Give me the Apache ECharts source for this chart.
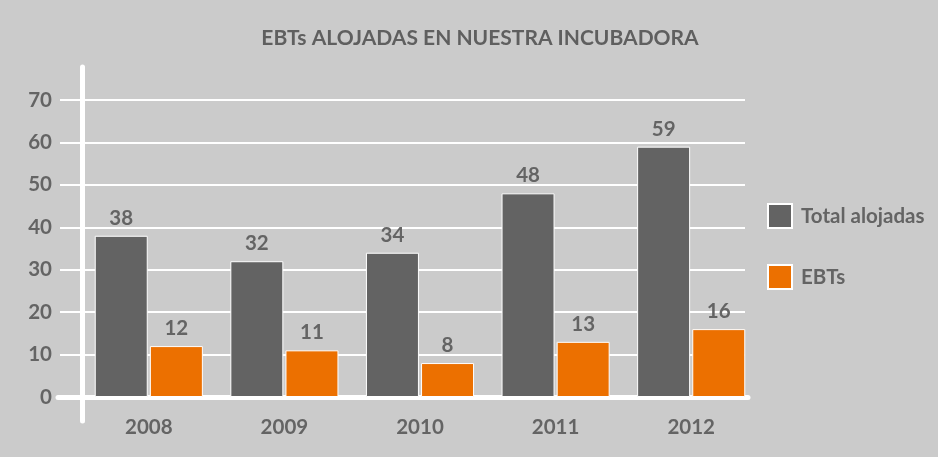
<!DOCTYPE html>
<html><head><meta charset="utf-8">
<script src="https://cdn.jsdelivr.net/npm/echarts@6/dist/echarts.min.js"></script>
<style>html,body{margin:0;padding:0;background:#cbcbcb}#c{width:938px;height:457px}</style>
</head><body><div id="c"></div>
<script>
const categories = ['2008','2009','2010','2011','2012'];
const totalAlojadas = [38, 32, 34, 48, 59];
const ebts = [12, 11, 8, 13, 16];
const seriesNames = ['Total alojadas', 'EBTs'];
const titleText = 'EBTs ALOJADAS EN NUESTRA INCUBADORA';

const FONT = 'Lato';
const TXT = '#646464';
const FS = 20.5;
const chart = echarts.init(document.getElementById('c'));
const labelStyle = {show: true, position: 'top', distance: 7, color: TXT, fontFamily: FONT, fontWeight: 'bold', fontSize: FS};
chart.setOption({
  backgroundColor: '#cbcbcb',
  animation: false,
  title: {text: titleText, left: 480, top: 28, textAlign: 'center', padding: 0,
    textStyle: {color: '#5f5f5f', fontFamily: FONT, fontWeight: 'bold', fontSize: 21}},
  legend: {orient: 'vertical', left: 767, top: 203, padding: 0, itemWidth: 24, itemHeight: 24, itemGap: 35,
    icon: 'rect', data: seriesNames,
    textStyle: {color: TXT, fontFamily: FONT, fontWeight: 'bold', fontSize: FS, padding: [0,0,0,4]}},
  grid: [
    {left: 82, right: 193, top: 100, bottom: 60},   // gridlines
    {left: 81, width: 678, top: 100, bottom: 60},   // bars
    {left: 58, right: 190, top: 100, bottom: 60},   // x axis line
    {left: 82, width: 10, top: 67, bottom: 36}      // y axis line
  ],
  xAxis: [
    {gridIndex: 0, type: 'value', show: false},
    {gridIndex: 1, type: 'category', data: categories,
      axisLine: {show: false}, axisTick: {show: false},
      axisLabel: {color: TXT, fontFamily: FONT, fontWeight: 'bold', fontSize: FS, margin: 20}},
    {gridIndex: 2, type: 'value', axisLine: {show: true, lineStyle: {color: '#ffffff', width: 5}},
      axisTick: {show: false}, axisLabel: {show: false}, splitLine: {show: false}},
    {gridIndex: 3, type: 'value', show: false}
  ],
  yAxis: [
    {gridIndex: 0, type: 'value', min: 0, max: 70, interval: 10,
      axisLine: {show: false},
      axisTick: {show: true, length: 22, lineStyle: {color: '#ffffff', width: 2}},
      axisLabel: {color: TXT, fontFamily: FONT, fontWeight: 'bold', fontSize: FS, margin: 30},
      splitLine: {show: true, lineStyle: {color: '#ffffff', width: 2}}},
    {gridIndex: 1, type: 'value', min: 0, max: 70, interval: 10, show: false},
    {gridIndex: 2, type: 'value', show: false},
    {gridIndex: 3, type: 'value', axisLine: {show: true, onZero: false, lineStyle: {color: '#ffffff', width: 5}},
      axisTick: {show: false}, axisLabel: {show: false}, splitLine: {show: false}}
  ],
  series: [
    {name: seriesNames[0], type: 'bar', xAxisIndex: 1, yAxisIndex: 1, data: totalAlojadas,
      barWidth: 53, barGap: '4%', barCategoryGap: '22%',
      itemStyle: {color: '#636363', borderColor: '#ffffff', borderWidth: 1},
      label: labelStyle},
    {name: seriesNames[1], type: 'bar', xAxisIndex: 1, yAxisIndex: 1, data: ebts,
      barWidth: 53,
      itemStyle: {color: '#ec7000', borderColor: '#ffffff', borderWidth: 1},
      label: labelStyle}
  ]
});
</script></body></html>
